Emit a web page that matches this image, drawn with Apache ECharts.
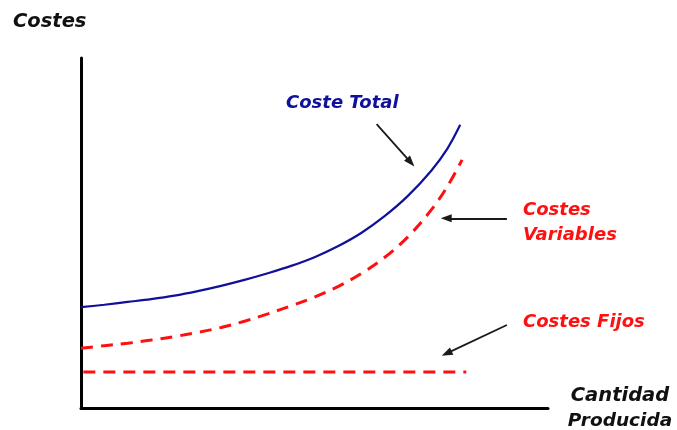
<!DOCTYPE html>
<html>
<head>
<meta charset="utf-8">
<script src="https://cdn.jsdelivr.net/npm/echarts@6/dist/echarts.min.js"></script>
<style>
html,body{margin:0;padding:0;background:#fff;}
#c{width:677px;height:430px;}
</style>
</head>
<body>
<div id="c"></div>
<script>
// ---- data (axis units 0..100) ----
var totalX = [0, 5, 10, 15, 20, 25, 30, 35, 40, 45, 50, 55, 60, 65, 70, 75, 78.5, 81.2];
var totalY = [28.8, 29.5, 30.3, 31.1, 32.1, 33.4, 34.9, 36.6, 38.5, 40.6, 43.1, 46.2, 50.0, 54.8, 60.6, 67.8, 74.2, 80.9];
var varX = [0, 5, 10, 15, 20, 25, 30, 35, 40, 45, 50, 55, 60, 65, 70, 75, 78.5, 81.6];
var varY = [17.1, 17.8, 18.5, 19.4, 20.4, 21.6, 23.0, 24.8, 26.9, 29.2, 31.7, 34.7, 38.4, 43.0, 48.9, 56.6, 63.4, 70.9];
var fixedX = [0.5, 82.5];
var fixedY = [10.3, 10.3];
// annotation arrows: [fromX, fromY, toX, toY]
var arrowTotal = [63.3, 81.1, 70.6, 70.2];
var arrowVar = [91.2, 54.2, 78.2, 54.2];
var arrowFijos = [91.2, 23.7, 78.3, 15.6];
// texts
var yTitle = 'Costes';
var xTitle = ['Cantidad', 'Producida'];
var labelTotal = 'Coste Total';
var labelVar = ['Costes', 'Variables'];
var labelFijos = 'Costes Fijos';

function zip(a, b) { return a.map(function (v, i) { return [v, b[i]]; }); }
function arrow(a) { return [{ coord: [a[0], a[1]] }, { coord: [a[2], a[3]] }]; }

var FONT = '"DejaVu Sans", Verdana, sans-serif';
function txt(t, x, y, color, align, size) {
  return {
    type: 'text', x: x, y: y, silent: true,
    style: {
      text: t, fill: color, fontFamily: FONT, fontSize: size || 18,
      fontWeight: 'bold', fontStyle: 'italic',
      align: align || 'left', verticalAlign: 'middle'
    }
  };
}

var RED = '#ff1010', BLUE = '#10109a', BLACK = '#111111';
var chart = echarts.init(document.getElementById('c'), null, { renderer: 'canvas' });
chart.setOption({
  animation: false,
  backgroundColor: '#ffffff',
  grid: { left: 81, right: 129, top: 58, bottom: 22, containLabel: false },
  xAxis: {
    type: 'value', min: 0, max: 100,
    axisLine: { show: true, onZero: false, lineStyle: { color: '#000', width: 3 } },
    axisTick: { show: false }, axisLabel: { show: false }, splitLine: { show: false }
  },
  yAxis: {
    type: 'value', min: 0, max: 100,
    axisLine: { show: true, onZero: false, lineStyle: { color: '#000', width: 3 } },
    axisTick: { show: false }, axisLabel: { show: false }, splitLine: { show: false }
  },
  series: [
    {
      name: labelTotal, type: 'line', data: zip(totalX, totalY),
      showSymbol: false, symbol: 'none', smooth: 0.35,
      lineStyle: { color: BLUE, width: 2.2 }
    },
    {
      name: labelVar.join(' '), type: 'line', data: zip(varX, varY),
      showSymbol: false, symbol: 'none', smooth: 0.35,
      lineStyle: { color: RED, width: 3, type: [12, 8] }
    },
    {
      name: labelFijos, type: 'line', data: zip(fixedX, fixedY),
      showSymbol: false, symbol: 'none',
      lineStyle: { color: RED, width: 3, type: [12, 8] },
      markLine: {
        silent: true, animation: false,
        symbol: ['none', 'triangle'], symbolSize: [8, 11],
        label: { show: false },
        lineStyle: { color: '#1a1a1a', width: 1.8, type: 'solid' },
        emphasis: { disabled: true },
        data: [arrow(arrowTotal), arrow(arrowVar), arrow(arrowFijos)]
      }
    }
  ],
  graphic: [
    txt(yTitle, 13, 22, BLACK, 'left', 19.5),
    txt(xTitle[0], 620, 396, BLACK, 'center', 19.5),
    txt(xTitle[1], 620, 421, BLACK, 'center', 18.5),
    txt(labelTotal, 286, 103, BLUE),
    txt(labelVar[0], 523, 210, RED),
    txt(labelVar[1], 523, 235, RED),
    txt(labelFijos, 523, 322, RED)
  ]
});
</script>
</body>
</html>
